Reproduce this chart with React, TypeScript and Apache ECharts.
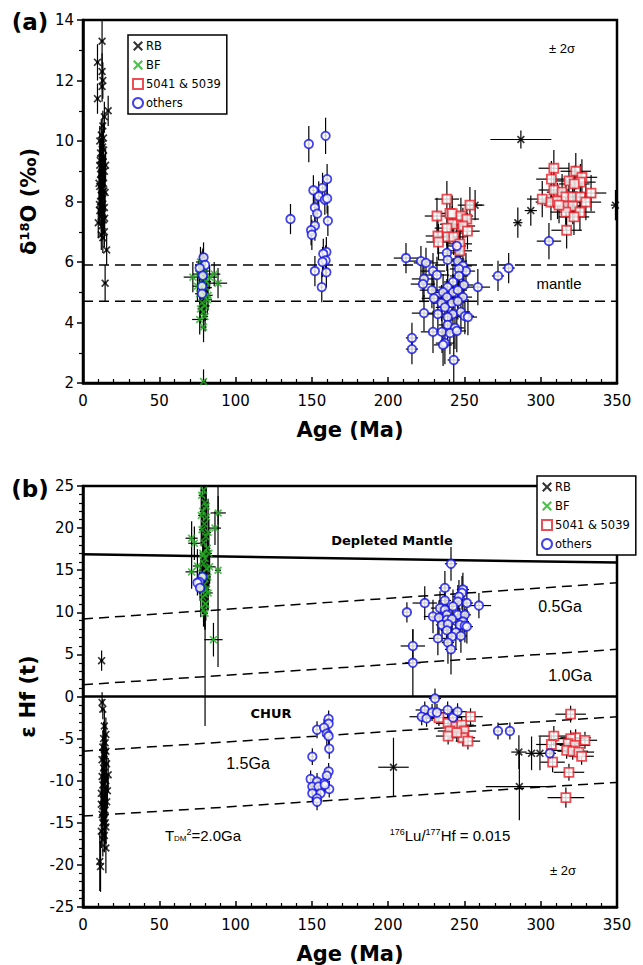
import React, { useEffect, useRef } from 'react';
import * as echarts from 'echarts';

// ---------- Panel (a): δ18O vs Age ----------  [age, value, ageErr, valueErr]
const rbTop: number[][] = [
  [12.5,13.3,1,0.9],[9.5,12.6,1,0.6],[12.5,12.3,1,0.6],[13,12.0,1,0.6],[12.5,11.8,1,0.5],[9.5,11.4,1,0.5],
  [16.5,11.0,1,0.5],[14,10.8,1,0.5],[13,10.5,1,0.5],[12,10.2,1,0.5],[11,10.0,1,0.5],[12.5,9.9,1,0.5],
  [13.5,9.7,1,0.5],[11.5,9.6,1,0.5],[12,9.4,1,0.5],[13,9.3,1,0.5],[11,9.2,1,0.5],[12.5,9.1,1,0.5],
  [14,9.0,1,0.5],[11.5,8.9,1,0.5],[12.8,8.8,1,0.5],[13.5,8.6,1,0.5],[11,8.5,1,0.5],[12.2,8.4,1,0.5],
  [14.5,8.3,1,0.5],[12,8.2,1,0.5],[13,8.1,1,0.5],[11.5,8.0,1,0.5],[12.5,7.9,1,0.5],[14,7.8,1,0.5],
  [11,7.7,1,0.5],[13,7.6,1,0.5],[12,7.5,1,0.5],[13.5,7.4,1,0.5],[10,7.3,1,0.5],[12.5,7.2,1,0.5],
  [14,7.0,1,0.5],[12,6.9,1,0.5],[13,6.8,1,0.5],[15.5,6.4,1,0.5],[14.5,5.3,1,0.6],
  [12.8,9.8,1,0.5],[11.8,8.7,1,0.5],[13.2,9.5,1,0.5],[12.3,8.95,1,0.5],[13.7,8.35,1,0.5],
  [11.3,9.35,1,0.5],[12.6,7.65,1,0.5],[13.4,10.1,1,0.5],[10.5,8.6,1,0.5],[14.8,9.2,1,0.5],
  [10.8,7.9,1,0.5],[14.2,7.45,1,0.5],
  [285,7.3,3,0.5],[293.5,7.7,4,0.5],[349,7.88,3,0.5],[287,10.05,20,0.3],[257,7.88,6,0.5],[246,6.1,4,0.6]
];
const bfTop: number[][] = [
  [79,2.05,1,0.4],[72,5.5,6,0.5],[86,5.6,4,0.4],[88.5,5.3,6,0.5],[76.5,4.1,5,0.5],[79,3.85,2,0.5],
  [77,6.0,3,0.5],[78,5.85,2,0.5],[80,5.7,3,0.4],[76,5.6,4,0.5],[79,5.45,2,0.5],[81,5.35,3,0.4],
  [77.5,5.25,2,0.5],[80.5,5.15,4,0.5],[78.5,5.05,2,0.4],[76.5,4.95,3,0.5],[79.5,4.85,2,0.5],
  [81.5,4.75,3,0.5],[78,4.65,2,0.4],[80,4.55,3,0.5],[77,4.45,2,0.5],[79,4.35,2,0.5],[82,4.9,3,0.5],
  [75,5.2,3,0.5],[83,5.5,5,0.4],[78.5,5.95,2,0.5],[80,4.2,2,0.5]
];
const redTop: number[][] = [
  [238.5,8.08,8,0.6],[253.6,7.88,8,0.6],[232,7.52,8,0.6],[240.5,7.61,8,0.6],[242,7.6,8,0.6],
  [247.7,7.52,8,0.6],[251.6,7.42,8,0.6],[242,7.25,8,0.6],[238.5,7.12,8,0.6],[249,7.19,8,0.6],
  [252,7.02,8,0.6],[232.6,6.86,8,0.6],[239,6.83,8,0.6],[243,6.83,8,0.6],[233,6.66,8,0.6],
  [247,6.6,8,0.6],[247,6.37,8,0.6],
  [308.6,9.1,10,0.6],[323,9.0,10,0.6],[307,8.74,10,0.6],[327,8.8,10,0.6],[318.5,8.68,10,0.6],
  [326,8.64,10,0.6],[322,8.58,10,0.6],[308.6,8.38,10,0.6],[314,8.31,10,0.6],[333,8.28,10,0.6],
  [301,8.08,10,0.6],[306.7,7.98,10,0.6],[311,8.02,10,0.6],[316.5,8.15,10,0.6],[321,8.15,10,0.6],
  [326,8.15,10,0.6],[329.6,7.98,10,0.6],[316.5,7.85,10,0.6],[321,7.85,10,0.6],[325.7,7.65,10,0.6],
  [316.5,7.65,10,0.6],[321.8,7.49,10,0.6],[317,7.05,10,0.6],[312,7.88,10,0.6]
];
const othersTop: number[][] = [
  [79,6.15,1,0.5],[80,5.9,1,0.4],[76.5,5.8,1,0.4],[78.5,5.55,1,0.4],[78,5.2,1,0.4],[78,4.95,1,0.4],
  [148,9.9,1,0.6],[159,10.17,1,0.6],[160,8.74,1.5,0.5],[151,8.37,1,0.5],[157,8.45,1,0.5],
  [154.5,8.17,1,0.5],[158.5,8.06,1,0.5],[160,8.1,1,0.5],[152,7.8,1,0.5],[153.5,7.6,1,0.5],
  [160.5,7.36,1,0.5],[136,7.42,1,0.5],[152,7.2,1,0.5],[149.5,7.05,1,0.5],[150,6.9,1,0.5],
  [159.5,6.33,1,0.5],[157.5,6.27,1,0.5],[159,6.05,1,0.5],[157,6.0,1,0.5],[152,5.7,1,0.5],
  [159.5,5.66,1,0.5],[156.5,5.17,1,0.5],
  [211.7,6.13,8,0.5],[221.5,6.03,8,0.5],[224.8,5.97,8,0.5],[238.5,6.3,6,0.6],[239,6.07,6,0.6],
  [245,6.53,6,0.6],[245.7,6.03,6,0.6],[249,5.87,6,0.6],[251,5.7,6,0.6],[246.4,5.77,6,0.6],
  [229.4,5.7,8,0.6],[232,5.57,8,0.6],[246.4,5.54,6,0.6],[223.5,5.44,8,0.6],[222.8,5.27,8,0.6],
  [272,5.54,4,0.5],[279,5.8,4,0.5],[258.8,5.17,8,0.6],[249.7,5.24,6,0.6],[242.5,5.34,6,0.6],
  [239,5.17,6,0.6],[228.7,5.07,8,0.6],[236,5.0,6,0.6],[242.5,5.0,6,0.6],[245.7,5.07,6,0.6],
  [238.5,4.84,6,0.6],[249,4.84,6,0.6],[230,4.8,8,0.6],[235,4.64,6,0.6],[241.8,4.64,6,0.6],
  [245.7,4.7,6,0.6],[237.2,4.5,6,0.6],[232.6,4.28,8,0.6],[223.5,4.31,8,0.6],[242.5,4.28,6,0.6],
  [247.7,4.35,6,0.6],[250.3,4.21,6,0.6],[252.3,4.18,6,0.6],[239,4.18,6,0.6],[239,3.92,6,0.7],
  [243.8,3.82,6,0.7],[229.4,3.69,8,0.7],[235.3,3.69,6,0.7],[240.5,3.65,6,0.7],[245,3.72,6,0.7],
  [215.6,3.49,4,0.5],[215.6,3.12,4,0.5],[237.2,3.32,6,0.7],[236,3.26,6,0.7],[243,2.76,4,0.9],
  [305.4,6.69,8,0.6]
];

// ---------- Panel (b): εHf(t) vs Age ----------
const rbBot: number[][] = [
  [12.2,4.26,1,1.2],[12.5,-0.7,1,1.2],[13,-1.5,1,1.2],
  [14,-3.5,1,2],[15,-4.5,1,2],[13.5,-5,1,2],[14.5,-5.5,1,2],[13,-6,1,2],[15,-6.5,1,2],[14,-7,1,2],
  [12.5,-7.5,1,2],[15.5,-8,1,2],[13.5,-8.5,1,2],[14,-9,1,2],[12.5,-9.5,1,2],[15,-10,1,2],
  [13,-10.5,1,2],[14.5,-11,1,2],[12,-11.5,1,2],[14,-12,1,2],[15.5,-12.5,1,2],[13,-13,1,2],
  [14.5,-13.5,1,2],[12.5,-14,1,2],[14,-14.5,1,2],[13,-15,1,2],[15,-15.5,1,2],[12,-16,1,2],
  [14,-16.5,1,2],[13,-17,1,2],[11,-19.6,1,3.5],[11.5,-20.2,1,3],[16,-11.2,1,2],[16.5,-9.3,1,2],
  [12,-12.8,1,2],[15,-18,1,3],[13.8,-6.8,1,2.5],[14.2,-9.8,1,2.5],[13.2,-12.2,1,2.5],[14.6,-15,1,2.5],
  [203.5,-8.4,10,3.5],[285.7,-6.6,5,2],[294,-6.75,4,2],[299.5,-6.75,4,2],[286,-10.7,22,4]
];
const bfBot: number[][] = [
  [77.8,23.9,2,2],[88.6,21.8,5,2],[86.5,20.0,4,2],[71.2,18.8,4,2],[71.2,14.8,4,2],[83,15.4,4,2],
  [85.5,6.75,6,2],[82,12.3,3,2],[80,9.9,2,2],
  [79,24.5,2,2],[80,23,2,2],[78.5,22,2,2],[81,21.3,2,2],[79.5,20.5,2,2],[78,19.8,2,2],
  [80.5,19,2,2],[79,18.3,2,2],[81.5,17.6,2,2],[78.5,17,2,2],[80,16.4,2,2],[79,15.8,2,2],
  [81,15.2,2,2],[78,14.6,2,2],[80,14,2,2],[79.5,13.3,2,2],[81,12.7,2,2],[78.5,11.8,2,2],
  [80.5,11,2,2],[79,10.3,2,2],[73,18.2,4,2],[75,15.5,3,2],[80,11,1.5,14.5],[88.5,15,2,11.5],
  [77.5,21.5,2,3.5],[82,19.5,2,4],[78.8,16.8,2,4],[81.8,14.2,2,4],[77.2,12.9,2,3.5],[80.8,22.6,2,4],
  [79.8,12.1,2,4],[82.5,17,2,4]
];
const redBot: number[][] = [
  [254,-2.4,8,1],[233.3,-2.5,8,1],[239.3,-3.2,8,1],[244.4,-3.55,8,1],[248.2,-3.4,8,1],
  [240.5,-4.1,8,1],[249.7,-4.1,8,1],[239.3,-4.7,8,1],[249,-4.9,8,1],[252.3,-5.3,8,1],[245,-4.3,8,1],
  [319.6,-2.1,10,1],[308.6,-4.7,10,1.2],[322.9,-4.9,10,1],[319.6,-5.0,10,1],[329,-5.2,8,1],
  [307,-5.7,10,1.2],[318,-5.6,10,1],[322.4,-5.8,10,1],[317,-6.4,10,1],[321,-6.5,10,1],
  [325,-6.6,10,1],[326.8,-7.1,8,1],[307.8,-7.8,8,1.2],[318.5,-9.0,10,1],[316.5,-12.0,12,1.2]
];
const othersBot: number[][] = [
  [78.2,14.2,1,1.5],[76.3,13.6,1,1.5],[75,13.5,1,1.5],[76.7,12.9,1,1.5],
  [161,-2.66,1,1],[161,-3.24,1,1],[153.4,-3.95,1,1],[158,-3.7,1,1],[159.8,-4.4,1,1.5],
  [161,-4.7,1,1.5],[161.4,-6.2,1,1.2],[150.3,-7.15,1,1],[161,-8.9,1,1],[159.8,-9.4,1,1],
  [149.2,-9.8,1,1],[153.4,-10.1,1,1],[158,-10.3,1,1],[150.3,-10.7,1,1],[154.3,-10.7,1,1],
  [161.4,-11,1,1],[150.3,-11.5,1,1],[155.7,-11.5,1,1],[153.4,-12.1,1,1],[153.4,-12.5,1,1],
  [158.5,-10.5,1,1],
  [241.2,15.76,4,2],[237.2,12.9,4,2],[249,12.7,4,2],[248.4,12.3,4,2],[246.4,11.85,4,2],
  [224,11.1,8,2],[237.2,11.4,4,2],[245.7,11.25,4,2],[251.6,11.1,4,2],[259.5,10.8,8,1.5],
  [242.5,10.7,4,2],[234,10.5,6,2],[237.2,10.3,4,2],[212.3,10.0,3,1.2],[238.5,9.7,4,2],
  [245.7,9.7,4,2],[250.3,9.7,4,2],[229.4,9.5,6,2],[233.3,9.36,6,2],[238.5,9.1,4,2],
  [241.8,9.2,4,2],[249,8.9,4,2],[235.3,8.5,4,2],[239.2,8.6,4,2],[247,8.5,4,2],[250.3,8.4,4,2],
  [251.6,8.3,4,2],[238.5,7.85,4,2],[244.4,7.6,4,2],[232.6,6.9,6,2],[241.8,7.1,4,2],
  [247.7,7.2,4,2],[239.2,6.4,4,2.5],[241.2,5.6,4,3],[216.2,6.0,8,2],[216.2,4.0,5,4],
  [230.7,-0.24,4,1.2],[224,-1.6,6,1],[222,-2.4,8,1],[225.2,-2.6,6,1],[228.8,-1.9,6,1],
  [232,-1.9,6,1],[239,-1.6,6,1],[242.5,-2.5,6,1],[245.5,-1.8,6,1],
  [272,-4.1,3,1],[279.8,-4.1,3,1],[306,-6.75,4,1]
];

// reference curves (age, εHf)
const depletedMantle = [[0, 16.9], [350, 15.9]];
const chur = [[0, 0], [350, 0]];
const ga05 = [[0, 9.2], [350, 13.5]];
const ga10 = [[0, 1.4], [350, 5.6]];
const ga15 = [[0, -6.5], [350, -2.4]];
const ga20 = [[0, -14.2], [350, -10.2]];
const mantleHigh = [[0, 5.9], [350, 5.9]];
const mantleLow = [[0, 4.7], [350, 4.7]];

const LEGEND_NAMES = ['RB', 'BF', '5041 & 5039', 'others'];

const VERDANA = 'DejaVu Sans, Verdana, sans-serif';
const ARIAL = 'Liberation Sans, Arial, sans-serif';
const CROSS = 'path://M0,1.5 L1.5,0 L5,3.5 L8.5,0 L10,1.5 L6.5,5 L10,8.5 L8.5,10 L5,6.5 L1.5,10 L0,8.5 L3.5,5 Z';

function errRender(params: any, api: any) {
  const x = api.value(0), y = api.value(1), xe = api.value(2), ye = api.value(3);
  const l = api.coord([x - xe, y]);
  const r = api.coord([x + xe, y]);
  const t = api.coord([x, y + ye]);
  const b = api.coord([x, y - ye]);
  const st = { stroke: '#000', lineWidth: 1.2 };
  return {
    type: 'group',
    children: [
      { type: 'line', shape: { x1: l[0], y1: l[1], x2: r[0], y2: r[1] }, style: st },
      { type: 'line', shape: { x1: t[0], y1: t[1], x2: b[0], y2: b[1] }, style: st },
    ],
  };
}

function groupSeries(idx: number, name: string, data: number[][], sym: any) {
  return [
    {
      type: 'custom', name: name + '-err', xAxisIndex: idx, yAxisIndex: idx, clip: true, z: 2,
      renderItem: errRender, encode: { x: 0, y: 1 }, data, silent: true,
    },
    {
      type: 'scatter', name, xAxisIndex: idx, yAxisIndex: idx, z: 3, data: data.map(d => [d[0], d[1]]),
      ...sym,
    },
  ];
}

const SYM_RB = { symbol: CROSS, symbolSize: 8, itemStyle: { color: '#000' } };
const SYM_BF = { symbol: CROSS, symbolSize: 8, itemStyle: { color: '#22b022' } };
const SYM_RED = { symbol: 'rect', symbolSize: 9, itemStyle: { color: '#fff', borderColor: '#e8202a', borderWidth: 1.8 } };
const SYM_BLUE = { symbol: 'circle', symbolSize: 8.5, itemStyle: { color: '#fff', borderColor: '#1414e6', borderWidth: 1.8 } };

function refLine(idx: number, data: number[][], width: number, dashed: boolean) {
  return {
    type: 'line', xAxisIndex: idx, yAxisIndex: idx, data, symbol: 'none', silent: true, z: 1,
    lineStyle: { color: '#000', width, type: dashed ? [10, 6] : 'solid' },
  };
}

function xAxis(gridIndex: number) {
  return {
    type: 'value', gridIndex, min: 0, max: 350, interval: 50,
    name: 'Age (Ma)', nameLocation: 'middle', nameGap: 36,
    nameTextStyle: { fontFamily: VERDANA, fontWeight: 'bold', fontSize: 21, color: '#000' },
    axisLine: { show: true, onZero: false, lineStyle: { color: '#000', width: 2.5 } },
    axisTick: { show: true, inside: true, length: 6, lineStyle: { color: '#000', width: 1.5 } },
    minorTick: { show: true, splitNumber: 5, length: 4, lineStyle: { color: '#000', width: 1.2 } },
    axisLabel: { fontFamily: VERDANA, fontSize: 15, color: '#000', margin: 10 },
    splitLine: { show: false },
  };
}

function yAxis(gridIndex: number, min: number, max: number, interval: number, minorSplit: number, name: string) {
  return {
    type: 'value', gridIndex, min, max, interval,
    name, nameLocation: 'middle', nameRotate: 90, nameGap: 44,
    nameTextStyle: {
      fontFamily: VERDANA, fontWeight: 'bold', fontSize: 21, color: '#000',
      rich: {
        b: { fontFamily: VERDANA, fontWeight: 'bold', fontSize: 21, color: '#000', verticalAlign: 'bottom' },
        s: { fontFamily: VERDANA, fontWeight: 'bold', fontSize: 13, color: '#000', verticalAlign: 'top' },
      },
    },
    axisLine: { show: true, onZero: false, lineStyle: { color: '#000', width: 2.5 } },
    axisTick: { show: true, inside: false, length: 6, lineStyle: { color: '#000', width: 1.5 } },
    minorTick: { show: true, splitNumber: minorSplit, length: 4, lineStyle: { color: '#000', width: 1.2 } },
    axisLabel: { fontFamily: VERDANA, fontSize: 15, color: '#000', margin: 9 },
    splitLine: { show: false },
  };
}

function legend(left: number, top: number) {
  return {
    data: LEGEND_NAMES, orient: 'vertical', left, top,
    backgroundColor: '#fff', borderColor: '#000', borderWidth: 1.5, borderRadius: 0,
    padding: [5, 6, 5, 4], itemGap: 7, itemWidth: 10, itemHeight: 10, selectedMode: false,
    textStyle: { fontFamily: VERDANA, fontSize: 11.5, color: '#000', padding: [0, 0, 0, -2] },
  };
}

function txt(x: number, y: number, text: string, size: number, opts: any = {}) {
  return {
    type: 'text', x, y, z: 10,
    style: {
      text, fontSize: size, fontFamily: opts.font || ARIAL, fontWeight: opts.bold ? 'bold' : 'normal',
      fill: '#000', align: 'center', verticalAlign: 'middle', rich: opts.rich,
    },
  };
}

export default function App() {
  const ref = useRef<HTMLDivElement>(null);
  useEffect(() => {
    if (!ref.current) return;
    const chart = echarts.init(ref.current, undefined, { renderer: 'svg' });
    const richSmall = {
      n: { fontFamily: ARIAL, fontSize: 15, color: '#000' },
      sub: { fontFamily: ARIAL, fontSize: 8, color: '#000', verticalAlign: 'bottom' },
      sup: { fontFamily: ARIAL, fontSize: 9, color: '#000', verticalAlign: 'top' },
    };
    const option: any = {
      animation: false,
      backgroundColor: '#fff',
      grid: [
        { left: 83, top: 20, width: 534, height: 363, show: true, borderColor: '#000', borderWidth: 2.5, backgroundColor: 'transparent' },
        { left: 83, top: 486, width: 534, height: 422, show: true, borderColor: '#000', borderWidth: 2.5, backgroundColor: 'transparent' },
      ],
      xAxis: [xAxis(0), xAxis(1)],
      yAxis: [
        yAxis(0, 2, 14, 2, 2, '{b|δ}{s|18}{b|O (‰)}'),
        yAxis(1, -25, 25, 5, 5, '{b|ε Hf (t)}'),
      ],
      legend: [legend(128, 35), legend(537, 476)],
      series: [
        refLine(0, mantleHigh, 1.5, true),
        refLine(0, mantleLow, 1.5, true),
        refLine(1, depletedMantle, 2.5, false),
        refLine(1, chur, 2.5, false),
        refLine(1, ga05, 1.5, true),
        refLine(1, ga10, 1.5, true),
        refLine(1, ga15, 1.5, true),
        refLine(1, ga20, 1.5, true),
        ...groupSeries(0, 'RB', rbTop, SYM_RB),
        ...groupSeries(0, 'BF', bfTop, SYM_BF),
        ...groupSeries(0, '5041 & 5039', redTop, SYM_RED),
        ...groupSeries(0, 'others', othersTop, SYM_BLUE),
        ...groupSeries(1, 'RB', rbBot, SYM_RB),
        ...groupSeries(1, 'BF', bfBot, SYM_BF),
        ...groupSeries(1, '5041 & 5039', redBot, SYM_RED),
        ...groupSeries(1, 'others', othersBot, SYM_BLUE),
      ],
      graphic: [
        txt(30, 22, '(a)', 23, { bold: true, font: VERDANA }),
        txt(30, 489, '(b)', 23, { bold: true, font: VERDANA }),
        txt(562, 48, '± 2σ', 13),
        txt(559, 283, 'mantle', 15),
        txt(392, 540, 'Depleted Mantle', 13, { bold: true, font: VERDANA }),
        txt(560, 606, '0.5Ga', 16),
        txt(570, 675, '1.0Ga', 16),
        txt(271, 713, 'CHUR', 13, { bold: true, font: VERDANA }),
        txt(248, 763, '1.5Ga', 16),
        txt(203, 835, '{n|T}{sub|DM}{sup|2}{n|=2.0Ga}', 15, { rich: richSmall }),
        txt(450, 835, '{sup|176}{n|Lu/}{sup|177}{n|Hf = 0.015}', 15, { rich: richSmall }),
        txt(563, 870, '± 2σ', 13),
      ],
    };
    chart.setOption(option);
    return () => chart.dispose();
  }, []);
  return <div ref={ref} style={{ position: 'absolute', left: 0, top: 0, width: 643, height: 965, background: '#fff' }} />;
}
